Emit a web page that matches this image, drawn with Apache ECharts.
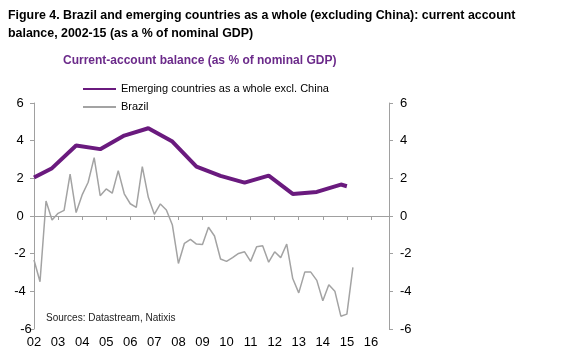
<!DOCTYPE html>
<html>
<head>
<meta charset="utf-8">
<script src="https://cdn.jsdelivr.net/npm/echarts@6/dist/echarts.min.js"></script>
<style>
html,body{margin:0;padding:0;background:#fff;}
#chart{width:562px;height:360px;}
</style>
</head>
<body>
<div id="chart"></div>
<script>
// Year tick labels (two-digit) and quarters
const yearLabels = ['02','03','04','05','06','07','08','09','10','11','12','13','14','15','16'];
const quarterNames = ['Q1','Q2','Q3','Q4'];

// Brazil current-account balance, quarterly from 2002 Q1 to 2015 Q2 (% of GDP)
const brazilValues = [
  -2.34, -3.49, 0.80, -0.21,
  0.14, 0.30, 2.22, 0.18,
  1.12, 1.79, 3.10, 1.08,
  1.44, 1.21, 2.41, 1.18,
  0.65, 0.46, 2.62, 0.99,
  0.09, 0.64, 0.32, -0.48,
  -2.52, -1.45, -1.24, -1.49,
  -1.51, -0.60, -1.06, -2.28,
  -2.41, -2.21, -1.99, -1.90,
  -2.41, -1.63, -1.58, -2.45,
  -1.90, -2.21, -1.49, -3.32,
  -4.08, -2.98, -2.98, -3.42,
  -4.50, -3.65, -3.99, -5.32,
  -5.21, -2.73
];

// Emerging countries as a whole excl. China (annual, plotted at quarter positions)
const emergingQuarters = ['02 Q1','02 Q4','03 Q4','04 Q4','05 Q4','06 Q4','07 Q4','08 Q4','09 Q4','10 Q4','11 Q4','12 Q4','13 Q4','14 Q4','15 Q1'];
const emergingValues = [2.04, 2.54, 3.74, 3.55, 4.27, 4.66, 3.95, 2.62, 2.13, 1.77, 2.14, 1.17, 1.28, 1.67, 1.58];

const yTicks = {min: -6, max: 6, interval: 2};

const categories = [];
yearLabels.forEach(y => quarterNames.forEach(q => categories.push(y + ' ' + q)));

const FONT = "'Liberation Sans', Arial, sans-serif";
const PURPLE = '#6a1a7e';
const GREY = '#a3a3a3';
const AXIS = '#a0a0a0';

const chart = echarts.init(document.getElementById('chart'), null, {renderer: 'canvas'});
chart.setOption({
  animation: false,
  backgroundColor: '#fff',
  textStyle: {fontFamily: FONT},
  title: [
    {
      text: 'Figure 4. Brazil and emerging countries as a whole (excluding China): current account\nbalance, 2002-15 (as a % of nominal GDP)',
      left: 8, top: 7, padding: 0,
      textStyle: {fontFamily: FONT, fontSize: 12.4, fontWeight: 'bold', color: '#000', lineHeight: 18}
    },
    {
      text: 'Current-account balance (as % of nominal GDP)',
      left: 63, top: 55, padding: 0,
      textStyle: {fontFamily: FONT, fontSize: 12, fontWeight: 'bold', color: '#6b2a8a'}
    },
    {
      text: 'Sources: Datastream, Natixis',
      left: 46, top: 313, padding: 0,
      textStyle: {fontFamily: FONT, fontSize: 10, fontWeight: 'normal', color: '#222'}
    }
  ],
  legend: {
    orient: 'vertical',
    left: 82, top: 82, padding: 0,
    itemWidth: 33, itemHeight: 14, itemGap: 4,
    itemStyle: {opacity: 0},
    textStyle: {fontFamily: FONT, fontSize: 11, color: '#000', lineHeight: 14},
    data: ['Emerging countries as a whole excl. China', 'Brazil']
  },
  grid: {left: 34, top: 103, width: 355, height: 226, containLabel: false},
  xAxis: {
    type: 'category',
    data: categories,
    boundaryGap: false,
    axisLine: {show: true, lineStyle: {color: AXIS, width: 1}},
    axisTick: {show: true, interval: 3, length: 4, inside: false, lineStyle: {color: AXIS}},
    axisLabel: {
      interval: 3, margin: 7,
      fontFamily: FONT, fontSize: 13, color: '#000',
      formatter: v => v.slice(0, 2)
    },
    splitLine: {show: false}
  },
  yAxis: [
    {
      type: 'value', position: 'left',
      min: yTicks.min, max: yTicks.max, interval: yTicks.interval,
      axisLine: {show: true, lineStyle: {color: AXIS}},
      axisTick: {show: true, length: 4, lineStyle: {color: AXIS}},
      axisLabel: {
        fontFamily: FONT, fontSize: 13, color: '#000', align: 'center', margin: 14,
        formatter: v => v === yTicks.min ? '{s|' + v + '}' : String(v),
        rich: {s: {fontFamily: FONT, fontSize: 13, color: '#000', padding: [0, 0, 0, 12]}}
      },
      splitLine: {show: false}
    },
    {
      type: 'value', position: 'right',
      min: yTicks.min, max: yTicks.max, interval: yTicks.interval,
      axisLine: {show: true, lineStyle: {color: AXIS}},
      axisTick: {show: true, length: 4, lineStyle: {color: AXIS}},
      axisLabel: {fontFamily: FONT, fontSize: 13, color: '#000', margin: 11},
      splitLine: {show: false}
    }
  ],
  series: [
    {
      name: 'Brazil',
      type: 'line',
      yAxisIndex: 0,
      data: brazilValues,
      symbol: 'none', showSymbol: false,
      lineStyle: {color: GREY, width: 1.5},
      itemStyle: {color: GREY},
      z: 2,
      markLine: {
        silent: true, symbol: ['none','none'], label: {show: false},
        lineStyle: {color: AXIS, width: 1, type: 'solid'},
        data: [{yAxis: 0}]
      }
    },
    {
      name: 'Emerging countries as a whole excl. China',
      type: 'line',
      yAxisIndex: 0,
      data: emergingQuarters.map((q, i) => [q, emergingValues[i]]),
      symbol: 'none', showSymbol: false,
      lineStyle: {color: PURPLE, width: 4},
      itemStyle: {color: PURPLE},
      z: 3
    }
  ]
});
</script>
</body>
</html>
